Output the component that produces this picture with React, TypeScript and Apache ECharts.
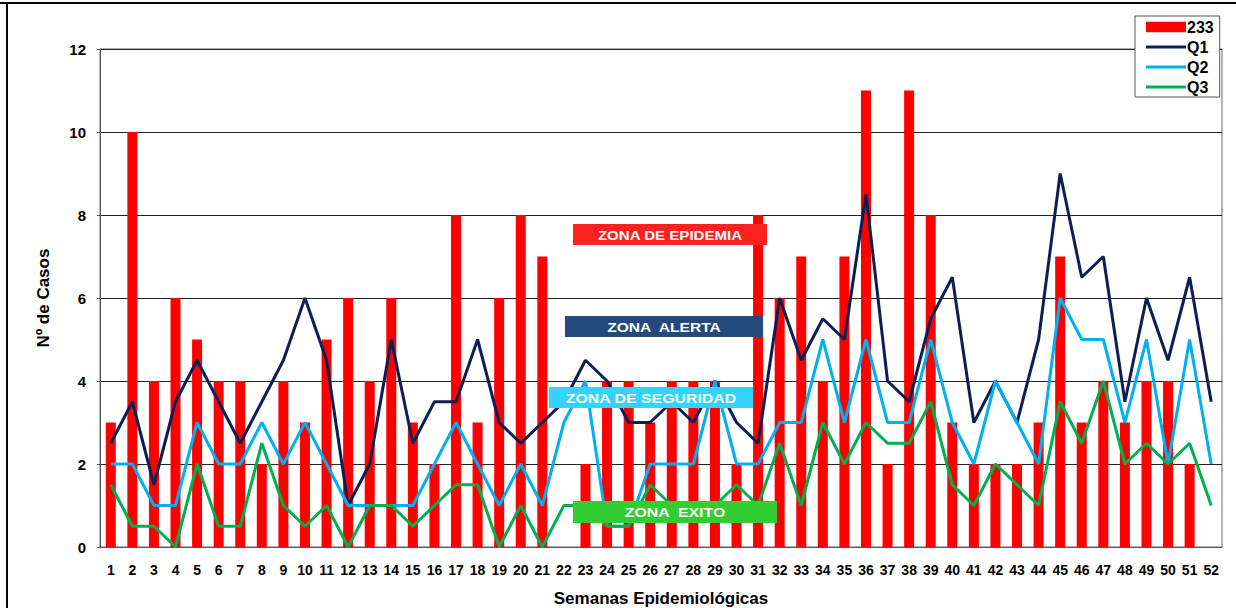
import React, { useEffect, useRef } from "react";
import * as echarts from "echarts";

const weeks = ["1","2","3","4","5","6","7","8","9","10","11","12","13","14","15","16","17","18","19","20","21","22","23","24","25","26","27","28","29","30","31","32","33","34","35","36","37","38","39","40","41","42","43","44","45","46","47","48","49","50","51","52"];

const cases233 = [3,10,4,6,5,4,4,2,4,3, 5,6,4,6,3,2,8,3,6,8, 7,0,2,4,4,3,4,4,4,2, 8,6,7,4,7,11,2,11,8,3, 2,2,2,3,7,3,4,3,4,4, 2,0];
const q1 = [2.5,3.5,1.5,3.5,4.5,3.5,2.5,3.5,4.5,6, 4.5,1,2,5,2.5,3.5,3.5,5,3,2.5, 3,3.5,4.5,4,3,3,3.5,3,4,3, 2.5,6,4.5,5.5,5,8.5,4,3.5,5.5,6.5, 3,4,3,5,9,6.5,7,3.5,6,4.5, 6.5,3.5];
const q2 = [2,2,1,1,3,2,2,3,2,3, 2,1,1,1,1,2,3,2,1,2, 1,3,4,0.5,0.5,2,2,2,4,2, 2,3,3,5,3,5,3,3,5,3, 2,4,3,2,6,5,5,3,5,2, 5,2];
const q3 = [1.5,0.5,0.5,0,2,0.5,0.5,2.5,1,0.5, 1,0,1,1,0.5,1,1.5,1.5,0,1, 0,1,1,0.5,0.5,1.5,1,1,1,1.5, 1,2.5,1,3,2,3,2.5,2.5,3.5,1.5, 1,2,1.5,1,3.5,2.5,4,2,2.5,2, 2.5,1];

const seriesNames = ["233", "Q1", "Q2", "Q3"];
const zoneLabels = ["ZONA DE EPIDEMIA", "ZONA  ALERTA", "ZONA DE SEGURIDAD", "ZONA  EXITO"];

const FONT = "'Liberation Sans', Arial, sans-serif";

function zone(text: string, x: number, y: number, w: number, h: number, fill: string, stretch: number) {
  return {
    type: "group",
    x,
    y,
    z: 100,
    children: [
      { type: "rect", z: 100, shape: { x: 0, y: 0, width: w, height: h }, style: { fill } },
      {
        type: "text",
        z: 101,
        x: w / 2,
        y: h / 2 + 1,
        scaleX: stretch,
        style: {
          text,
          fill: "#ffffff",
          font: `bold 13px ${FONT}`,
          align: "center",
          verticalAlign: "middle",
        },
      },
    ],
  };
}

export default function App() {
  const ref = useRef<HTMLDivElement>(null);
  useEffect(() => {
    if (!ref.current) return;
    const chart = echarts.init(ref.current, null, { renderer: "svg" });
    chart.setOption({
      animation: false,
      backgroundColor: "#ffffff",
      grid: {
        left: 100,
        right: 14,
        top: 49,
        bottom: 61,
        containLabel: false,
        outerBoundsMode: "none",
        show: true,
        borderColor: "#6b6b6b",
        borderWidth: 1,
      },
      legend: {
        orient: "vertical",
        left: 1135,
        top: 16,
        itemWidth: 40,
        itemHeight: 14,
        itemGap: 4,
        padding: [3, 6, 2, 11],
        backgroundColor: "#ffffff",
        borderColor: "#555",
        borderWidth: 1,
        textStyle: {
          fontFamily: FONT,
          fontWeight: "bold",
          fontSize: 16,
          lineHeight: 16,
          color: "#000",
          padding: [0, 0, 0, -4],
        },
        data: [
          { name: seriesNames[0], icon: "path://M0,0H38V10H0Z" },
          { name: seriesNames[1], icon: "path://M0,0H40V3H0Z" },
          { name: seriesNames[2], icon: "path://M0,0H40V3H0Z" },
          { name: seriesNames[3], icon: "path://M0,0H40V3H0Z" },
        ],
      },
      xAxis: {
        type: "category",
        data: weeks,
        name: "Semanas Epidemiológicas",
        nameLocation: "middle",
        nameGap: 43,
        nameTextStyle: { fontFamily: FONT, fontWeight: "bold", fontSize: 17, color: "#000" },
        axisLine: { show: true, lineStyle: { color: "#555", width: 1 } },
        axisTick: { show: false },
        axisLabel: {
          interval: 0,
          margin: 16,
          fontFamily: FONT,
          fontWeight: "bold",
          fontSize: 14,
          color: "#000",
        },
      },
      yAxis: {
        type: "value",
        min: 0,
        max: 12,
        interval: 2,
        name: "Nº de Casos",
        nameLocation: "middle",
        nameGap: 48,
        nameTextStyle: { fontFamily: FONT, fontWeight: "bold", fontSize: 17, color: "#000" },
        axisLine: { show: true, lineStyle: { color: "#555", width: 1 } },
        axisTick: { show: true, length: 3, lineStyle: { color: "#555" } },
        axisLabel: { margin: 14, fontFamily: FONT, fontWeight: "bold", fontSize: 15, color: "#000" },
        splitLine: { show: true, lineStyle: { color: "#222", width: 1 } },
      },
      series: [
        {
          name: seriesNames[0],
          type: "bar",
          data: cases233,
          barWidth: 10,
          itemStyle: { color: "#ff0000" },
          z: 2,
        },
        {
          name: seriesNames[1],
          type: "line",
          data: q1,
          symbol: "none",
          lineStyle: { color: "#0c1f55", width: 3 },
          itemStyle: { color: "#0c1f55" },
          z: 3,
        },
        {
          name: seriesNames[2],
          type: "line",
          data: q2,
          symbol: "none",
          lineStyle: { color: "#00b0f0", width: 3 },
          itemStyle: { color: "#00b0f0" },
          z: 3,
        },
        {
          name: seriesNames[3],
          type: "line",
          data: q3,
          symbol: "none",
          lineStyle: { color: "#00b050", width: 3 },
          itemStyle: { color: "#00b050" },
          z: 3,
        },
      ],
      graphic: [
        { type: "line", z: 100, shape: { x1: 0, y1: 3, x2: 1236, y2: 3 }, style: { stroke: "#000", lineWidth: 2 } },
        { type: "line", z: 100, shape: { x1: 7, y1: 3, x2: 7, y2: 608 }, style: { stroke: "#000", lineWidth: 2 } },
        zone(zoneLabels[0], 573, 224, 194, 21, "#ff2020", 1.16),
        zone(zoneLabels[1], 565, 316, 198, 21, "#234a7b", 1.2),
        zone(zoneLabels[2], 549, 387, 204, 21, "#30d4fc", 1.22),
        zone(zoneLabels[3], 573, 501, 204, 22, "#33cc33", 1.22),
      ],
    });
    return () => chart.dispose();
  }, []);
  return <div ref={ref} style={{ position: "fixed", left: 0, top: 0, width: 1236, height: 608 }} />;
}
